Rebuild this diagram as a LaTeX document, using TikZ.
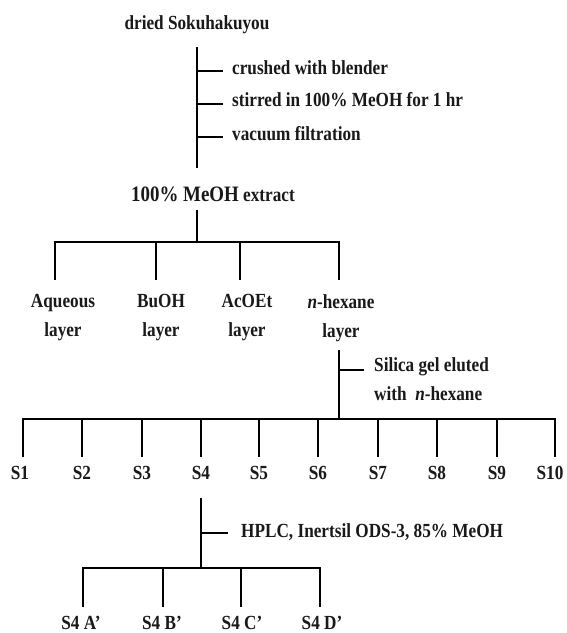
\documentclass[tikz,border=0pt]{standalone}
\usepackage{fontspec}
\setmainfont[FakeStretch=0.86]{Liberation Serif}
\begin{document}
\begin{tikzpicture}[x=1pt,y=-1pt,
  lbl/.style={font=\bfseries\fontsize{20}{29}\selectfont, inner sep=0pt, text=black!90},
  ln/.style={line width=2.4pt, line join=miter, line cap=butt}]
\useasboundingbox[fill=white] (0,0) rectangle (567,633);

% ---------- top: dried material ----------
\node[lbl, anchor=base] (dried) at (197,29) {dried Sokuhakuyou};
\coordinate (a0) at (197,47);
\coordinate (a1) at (197,168);
\draw[ln] (a0) -- (a1);
\coordinate (t1) at (197,71);  \coordinate (t1e) at (223,71);
\coordinate (t2) at (197,104); \coordinate (t2e) at (223,104);
\coordinate (t3) at (197,137); \coordinate (t3e) at (223,137);
\draw[ln] (t1) -- (t1e);
\draw[ln] (t2) -- (t2e);
\draw[ln] (t3) -- (t3e);
\node[lbl, anchor=base west] (crush) at (232,74) {crushed with blender};
\node[lbl, anchor=base west] (stir) at (232,106) {stirred in 100\% MeOH for 1 hr};
\node[lbl, anchor=base west] (vac) at (232,140) {vacuum filtration};

% ---------- extract and partition ----------
\node[lbl, anchor=base] (extract) at (213,201) {{\fontsize{22}{29}\selectfont 100\% MeOH} extract};
\coordinate (b0) at (197,210);
\coordinate (b1) at (197,242);
\draw[ln] (b0) -- (b1);
\coordinate (p1) at (55,242);  \coordinate (p1e) at (55,280);
\coordinate (p2) at (156,242); \coordinate (p2e) at (156,280);
\coordinate (p3) at (240,242); \coordinate (p3e) at (240,280);
\coordinate (p4) at (339,242); \coordinate (p4e) at (339,280);
\draw[ln] (p1e) -- (p1) -- (p4) -- (p4e);
\draw[ln] (p2) -- (p2e);
\draw[ln] (p3) -- (p3e);
\node[lbl, anchor=north, align=center] (aq) at (63,294) {Aqueous\\layer};
\node[lbl, anchor=north, align=center] (bu) at (161,294) {BuOH\\layer};
\node[lbl, anchor=north, align=center] (ac) at (247,294) {AcOEt\\layer};
\node[lbl, anchor=north, align=center] (hx) at (341,294) {\textit{n}-hexane\\layer};

% ---------- silica gel ----------
\coordinate (c0) at (339,350);
\coordinate (c1) at (339,419);
\draw[ln] (c0) -- (c1);
\coordinate (ct) at (339,370); \coordinate (cte) at (364,370);
\draw[ln] (ct) -- (cte);
\node[lbl, anchor=north west, align=left] (sil) at (374,357) {Silica gel eluted\\with\ \ \textit{n}-hexane};

\foreach \i/\xx in {1/23,2/82,3/142,4/201,5/259,6/318,7/378,8/437,9/497,10/555}{
  \coordinate (s\i top) at (\xx,419);
  \coordinate (s\i bot) at (\xx,457);
}
\draw[ln] (s1bot) -- (s1top) -- (s10top) -- (s10bot);
\foreach \i in {2,...,9}{ \draw[ln] (s\i top) -- (s\i bot); }
\foreach \i/\xx in {1/20,2/82,3/142,4/201,5/259,6/318,7/378,8/437,9/497,10/550}{
  \node[lbl, anchor=base] (S\i) at (\xx,479) {S\i};
}

% ---------- HPLC ----------
\coordinate (d0) at (201,498);
\coordinate (d1) at (201,568);
\draw[ln] (d0) -- (d1);
\coordinate (dt) at (201,533); \coordinate (dte) at (228,533);
\draw[ln] (dt) -- (dte);
\node[lbl, anchor=base west] (hplc) at (241,537) {HPLC, Inertsil ODS-3, 85\% MeOH};
\coordinate (q1) at (83,568);  \coordinate (q1e) at (83,607);
\coordinate (q2) at (163,568); \coordinate (q2e) at (163,607);
\coordinate (q3) at (241,568); \coordinate (q3e) at (241,607);
\coordinate (q4) at (320,568); \coordinate (q4e) at (320,607);
\draw[ln] (q1e) -- (q1) -- (q4) -- (q4e);
\draw[ln] (q2) -- (q2e);
\draw[ln] (q3) -- (q3e);
\node[lbl, anchor=base] (fa) at (81,629) {S4 A’};
\node[lbl, anchor=base] (fb) at (162,629) {S4 B’};
\node[lbl, anchor=base] (fc) at (242,629) {S4 C’};
\node[lbl, anchor=base] (fd) at (322,629) {S4 D’};
\end{tikzpicture}
\end{document}
